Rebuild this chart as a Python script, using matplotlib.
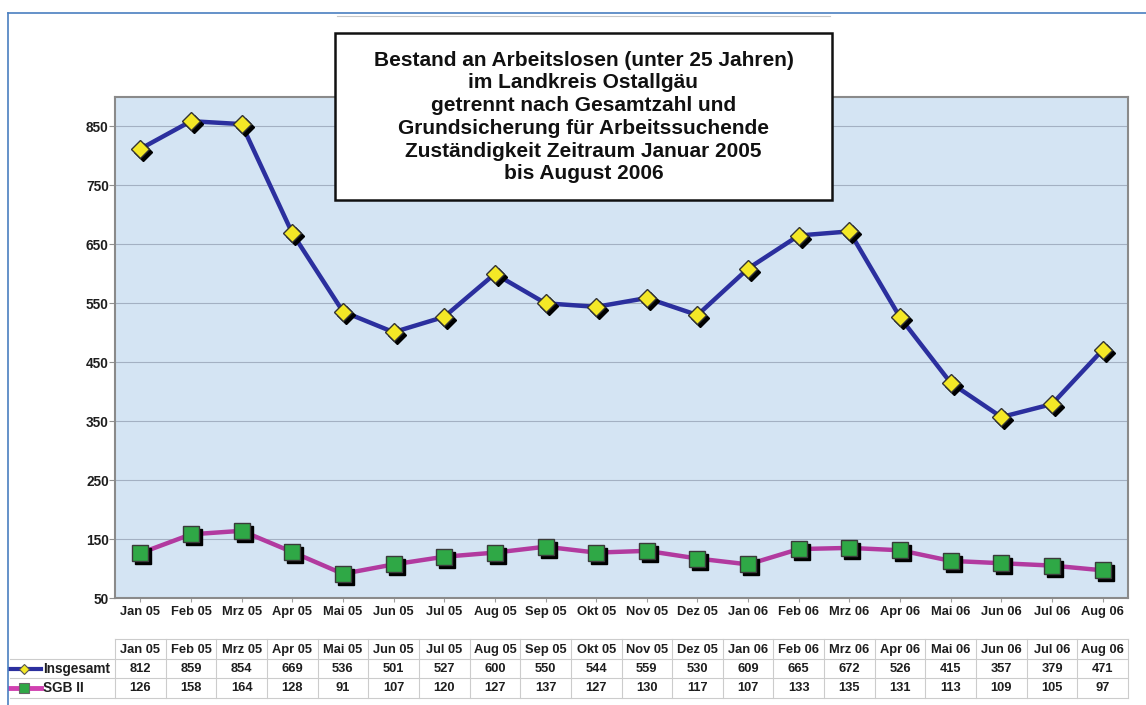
import matplotlib
matplotlib.use("Agg")
import matplotlib.pyplot as plt
import matplotlib.transforms as mtransforms
from matplotlib.patches import Rectangle
from matplotlib.lines import Line2D

plt.rcParams['font.family'] = ['Liberation Sans', 'DejaVu Sans']

months = ["Jan 05", "Feb 05", "Mrz 05", "Apr 05", "Mai 05", "Jun 05", "Jul 05", "Aug 05",
          "Sep 05", "Okt 05", "Nov 05", "Dez 05", "Jan 06", "Feb 06", "Mrz 06", "Apr 06",
          "Mai 06", "Jun 06", "Jul 06", "Aug 06"]
insgesamt = [812, 859, 854, 669, 536, 501, 527, 600, 550, 544, 559, 530, 609, 665, 672, 526,
             415, 357, 379, 471]
sgb2 = [126, 158, 164, 128, 91, 107, 120, 127, 137, 127, 130, 117, 107, 133, 135, 131,
        113, 109, 105, 97]
yticks = [50, 150, 250, 350, 450, 550, 650, 750, 850]
series_names = ["Insgesamt", "SGB II"]
title_lines = ["Bestand an Arbeitslosen (unter 25 Jahren)", "im Landkreis Ostallgäu",
               "getrennt nach Gesamtzahl und", "Grundsicherung für Arbeitssuchende",
               "Zuständigkeit Zeitraum Januar 2005", "bis August 2006"]

W, H = 1146, 705
fig = plt.figure(figsize=(W / 100, H / 100), dpi=100)
fig.patch.set_facecolor('white')

def fx(px):
    return px / W

def fy(py):
    return 1 - py / H

TXT = '#1e1e1e'
FS = 9.3

# main axes
ax = fig.add_axes([fx(115), fy(598), fx(1128) - fx(115), fy(97) - fy(598)])
ax.set_facecolor('#d4e4f3')
x = list(range(len(months)))
ax.set_xlim(-0.5, len(months) - 0.5)
ax.set_ylim(50, 900)
ax.set_yticks(yticks)
ax.set_yticklabels([str(v) for v in yticks], fontsize=FS + 0.5, fontweight='bold', color=TXT)
ax.set_xticks(x)
ax.set_xticklabels(months, fontsize=FS, fontweight='bold', color=TXT)
ax.tick_params(axis='x', length=3, color='#a0a0a0', pad=3)
ax.tick_params(axis='y', length=4, color='#909090', pad=0.5)
ax.grid(axis='y', color='#a3b0c2', linewidth=0.8)
ax.set_axisbelow(True)
for s in ax.spines.values():
    s.set_color('#8a8a8a')
    s.set_linewidth(1.5)

shadow = mtransforms.offset_copy(ax.transData, fig=fig, x=3, y=-3, units='dots')

# Insgesamt
ax.plot(x, insgesamt, color='#2b2f9e', linewidth=3.2, zorder=3)
ax.plot(x, insgesamt, linestyle='none', marker='D', markersize=9.5, color='black',
        transform=shadow, zorder=4)
ax.plot(x, insgesamt, linestyle='none', marker='D', markersize=9.5, markerfacecolor='#f4e826',
        markeredgecolor='#333333', markeredgewidth=1, zorder=5)

# SGB II
ax.plot(x, sgb2, color='#b23a9f', linewidth=3.2, zorder=3)
ax.plot(x, sgb2, linestyle='none', marker='s', markersize=11, color='black',
        transform=shadow, zorder=4)
ax.plot(x, sgb2, linestyle='none', marker='s', markersize=11, markerfacecolor='#2fa846',
        markeredgecolor='#3a3a3a', markeredgewidth=1, zorder=5)

# table axes
tax = fig.add_axes([fx(115), fy(698), fx(1128) - fx(115), fy(639) - fy(698)])
tax.set_xlim(-0.5, len(months) - 0.5)
tax.set_ylim(3, 0)
tax.axis('off')
gcol = '#cccccc'
px = len(months) / 1013
left_ext = -0.5 - 105 * px
for k in range(len(months) + 1):
    tax.plot([k - 0.5, k - 0.5], [0, 3], color=gcol, linewidth=0.8, clip_on=False)
tax.plot([-0.5, len(months) - 0.5], [0, 0], color=gcol, linewidth=0.8, clip_on=False)
for r in [1, 2, 3]:
    tax.plot([left_ext, len(months) - 0.5], [r, r], color=gcol, linewidth=0.8, clip_on=False)
for i, m in enumerate(months):
    tax.text(i, 0.55, m, ha='center', va='center', fontsize=FS, fontweight='bold', color=TXT)
    tax.text(i, 1.5, str(insgesamt[i]), ha='center', va='center', fontsize=FS,
             fontweight='bold', color=TXT)
    tax.text(i, 2.5, str(sgb2[i]), ha='center', va='center', fontsize=FS,
             fontweight='bold', color=TXT)

# legend keys in table
x0 = -0.5 - 105 * px
key_x = [x0, x0 + 14 * px, x0 + 31 * px]
tax.plot(key_x, [1.5] * 3, color='#2b2f9e', linewidth=3, clip_on=False)
tax.plot([key_x[1]], [1.5], marker='D', markersize=5, markerfacecolor='#f4e826',
         markeredgecolor='#555555', markeredgewidth=0.8, clip_on=False)
tax.plot(key_x, [2.5] * 3, color='#d040b0', linewidth=3.5, clip_on=False)
tax.plot([key_x[1]], [2.5], marker='s', markersize=6.5, markerfacecolor='#2fa846',
         markeredgecolor='#666666', markeredgewidth=0.8, clip_on=False)
tax.text(x0 + 33 * px, 1.5, series_names[0], ha='left', va='center', fontsize=FS + 0.5,
         fontweight='bold', color=TXT)
tax.text(x0 + 33 * px, 2.5, series_names[1], ha='left', va='center', fontsize=FS + 0.5,
         fontweight='bold', color=TXT)

# figure frame lines
fig.add_artist(Line2D([fx(8), 1], [fy(13), fy(13)], color='#4a7fc0', linewidth=1.2))
fig.add_artist(Line2D([fx(8), fx(8)], [fy(13), 0], color='#4a7fc0', linewidth=1.2))
fig.add_artist(Line2D([fx(337), fx(830)], [fy(16), fy(16)], color='#c8c8c8', linewidth=0.8))

# title box
fig.add_artist(Rectangle((fx(335), fy(200)), fx(832) - fx(335), fy(33) - fy(200),
                         facecolor='white', edgecolor='#111111', linewidth=1.8,
                         transform=fig.transFigure, zorder=10))
fig.text(fx(583.5), fy(117), "\n".join(title_lines), ha='center', va='center',
         fontsize=15, fontweight='bold', color='#111111', linespacing=1.25, zorder=11)

fig.savefig('out.png', dpi=100)
